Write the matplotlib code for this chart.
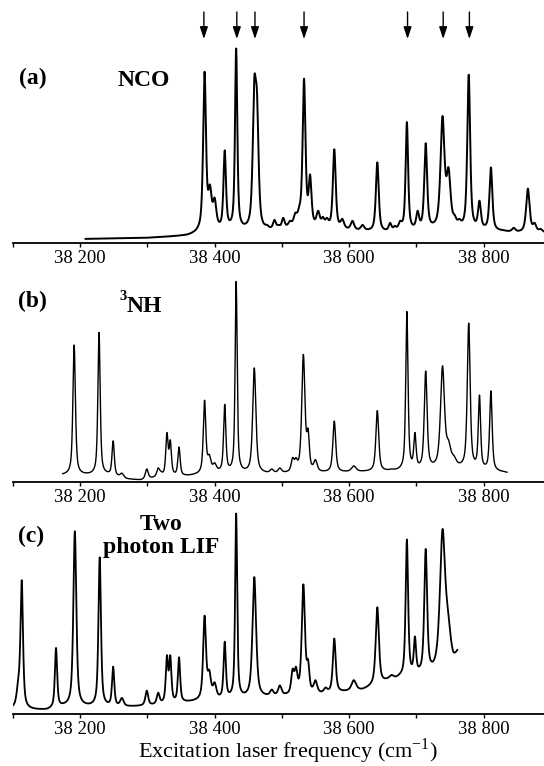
import numpy as np
import matplotlib
matplotlib.use("Agg")
import matplotlib.pyplot as plt

plt.rcParams['font.family'] = ['Liberation Serif', 'DejaVu Serif']

# ---------------- data ----------------
# x axis ticks
tick_major = [38200, 38400, 38600, 38800]
tick_minor = [38100, 38300, 38500, 38700]
tick_labels = ["38 200", "38 400", "38 600", "38 800"]
x_range = (38100, 38890)

# arrow positions in panel (a)
arrow_freqs = [38384, 38433, 38460, 38533, 38687, 38740, 38779]

# Panel (a) NCO : peak centres (cm-1), peak heights, half widths
centers_a = [38385, 38393, 38400, 38415, 38432, 38459, 38463, 38478, 38489, 38495,
             38502, 38512, 38520, 38526, 38533, 38542, 38554, 38561, 38567, 38578,
             38590, 38605, 38620, 38642, 38661, 38668, 38676, 38686, 38702, 38714,
             38739, 38748, 38757, 38764, 38778, 38794, 38811, 38829, 38845, 38866,
             38876, 38885]
heights_a = [170, 58, 45, 92, 193, 164, 150, 18, 23, 18,
             25, 22, 30, 37, 163, 68, 32, 26, 25, 93,
             24, 22, 18, 80, 20, 17, 22, 120, 32, 99,
             126, 75, 28, 24, 167, 42, 75, 13, 15, 54,
             20, 14]
widths_a = [2.5, 3, 3, 2.2, 2.0, 2.8, 2.8, 3, 2.5, 2.5,
            2.5, 3, 3, 3, 2.5, 2.5, 3, 2.5, 3, 2.5,
            3, 3, 3, 2.5, 2.5, 2.5, 3, 2.2, 2.5, 2.5,
            3.5, 3.5, 3, 3, 2.5, 2.5, 2.5, 3, 3, 3,
            3, 3]
base_a_f = [38208, 38300, 38360, 38376, 38420, 38470, 38520, 38600, 38660, 38720, 38800, 38850, 38890]
base_a_v = [4, 5, 7, 9, 12, 10, 14, 12, 10, 12, 12, 10, 10]

# Panel (b) 3NH
centers_b = [38191, 38228, 38249, 38262, 38299, 38316, 38320, 38329, 38334, 38347,
             38355, 38385, 38392, 38400, 38415, 38432, 38459, 38485, 38497, 38516,
             38521, 38532, 38539, 38550, 38565, 38578, 38607, 38642, 38663, 38675,
             38686, 38698, 38714, 38739, 38748, 38756, 38778, 38794, 38811, 38828]
heights_b = [131, 143, 39, 8, 12, 13, 10, 47, 40, 33,
             6, 78, 26, 18, 74, 192, 109, 12, 13, 23,
             23, 122, 51, 21, 10, 58, 15, 68, 12, 12,
             163, 47, 106, 111, 40, 25, 152, 83, 87, 10]
widths_b = [2.2, 2.0, 2.0, 3, 2.5, 2.5, 2.5, 2.0, 2.0, 2.0,
            3, 2.2, 3, 3, 2.0, 1.8, 2.8, 3, 3, 2.5,
            2.5, 2.8, 2.2, 3, 3, 2.5, 4, 2.5, 3, 3,
            2.0, 2.0, 2.5, 3.5, 4, 4, 2.5, 2.0, 2.2, 3]
base_b_f = [38174, 38200, 38240, 38270, 38290, 38320, 38360, 38400, 38480, 38560, 38620, 38700, 38760, 38800, 38835]
base_b_v = [6, 6, 6, 2, 1, 4, 5, 8, 7, 8, 9, 10, 12, 10, 8]

# Panel (c) two photon LIF
centers_c = [38108, 38113, 38164, 38192, 38229, 38249, 38262, 38299, 38316, 38329,
             38334, 38347, 38385, 38392, 38400, 38415, 38432, 38459, 38485, 38497,
             38516, 38521, 38532, 38539, 38550, 38565, 38578, 38607, 38642, 38663,
             38675, 38686, 38698, 38714, 38739, 38747]
heights_c = [35, 128, 63, 175, 150, 45, 15, 22, 20, 56,
             56, 54, 94, 42, 30, 69, 192, 131, 23, 27,
             43, 45, 124, 52, 32, 25, 72, 32, 102, 37,
             38, 167, 74, 158, 177, 100]
widths_c = [3, 2.2, 2.0, 2.6, 2.2, 2.0, 3, 2.5, 2.5, 2.0,
            2.0, 2.0, 2.5, 3, 3, 2.0, 1.8, 3.2, 3, 3,
            2.5, 2.5, 2.8, 2.2, 3, 3, 2.5, 4, 2.8, 4,
            4, 2.2, 2.0, 2.5, 4.5, 5]
base_c_f = [38100, 38150, 38175, 38260, 38300, 38370, 38450, 38500, 38560, 38620, 38655, 38700, 38725, 38755, 38761]
base_c_v = [4, 3, 6, 6, 7, 11, 14, 16, 18, 22, 30, 35, 37, 45, 55]

# ---------------- helpers ----------------
W, H = 544, 766
ETA = 0.65


def profile(x, c, w):
    d = (x - c) / w
    return ETA / (1 + d * d) + (1 - ETA) * np.exp(-np.log(2) * d * d)


def spectrum(centers, heights, widths, bf, bv, step=0.2):
    c = np.asarray(centers, float)
    h = np.asarray(heights, float)
    w = np.asarray(widths, float)
    x = np.arange(bf[0], bf[-1] + step / 2, step)
    M = profile(c[:, None], c[None, :], w[None, :])
    amps = np.linalg.solve(M, h - np.interp(c, bf, bv))
    amps = np.clip(amps, 0, None)
    y = np.interp(x, bf, bv) + (amps[None, :] * profile(x[:, None], c[None, :], w[None, :])).sum(axis=1)
    return x, y


def make_axes(fig, y_axis_px, y_top_px, peak_px, peak_val):
    left = 13
    ax = fig.add_axes([left / W, 1 - y_axis_px / H, (W - left) / W, (y_axis_px - y_top_px) / H])
    scale = peak_val / peak_px  # data units per pixel
    ax.set_ylim(0, (y_axis_px - y_top_px) * scale)
    ax.set_xlim(*x_range)
    for s in ('top', 'right', 'left'):
        ax.spines[s].set_visible(False)
    ax.spines['bottom'].set_linewidth(1.3)
    ax.set_yticks([])
    ax.set_xticks(tick_major)
    ax.set_xticklabels(tick_labels)
    ax.set_xticks(tick_minor, minor=True)
    ax.tick_params(axis='x', which='both', direction='out', length=3.0, width=1.0,
                   labelsize=13.5, pad=2.2)
    ax.patch.set_alpha(0)
    return ax, scale


fig = plt.figure(figsize=(W / 100, H / 100), dpi=100)

# panel (a)
xa, ya = spectrum(centers_a, heights_a, widths_a, base_a_f, base_a_v)
ax_a, sa = make_axes(fig, 243, 0, 243 - 48.5, max(heights_a))
ax_a.plot(xa, ya, color='black', lw=1.4)
for f in arrow_freqs:
    ax_a.annotate('', xy=(f, (243 - 39) * sa), xytext=(f, (243 - 12) * sa),
                  arrowprops=dict(arrowstyle='-|>,head_length=0.9,head_width=0.3',
                                  color='black', lw=1.0, shrinkA=0, shrinkB=0,
                                  mutation_scale=8),
                  annotation_clip=False)

# panel (b)
xb, yb = spectrum(centers_b, heights_b, widths_b, base_b_f, base_b_v)
ax_b, sb = make_axes(fig, 481.5, 265, 481.5 - 281.5, max(heights_b))
ax_b.plot(xb, yb, color='black', lw=1.0)

# panel (c)
xc, yc = spectrum(centers_c, heights_c, widths_c, base_c_f, base_c_v)
ax_c, sc = make_axes(fig, 713.5, 500, 713.5 - 513.5, max(heights_c))
ax_c.plot(xc, yc, color='black', lw=1.3)


def ftext(x, y, s, **kw):
    fig.text(x / W, 1 - y / H, s, **kw)


bold = dict(fontweight='bold', fontsize=17)
ftext(19, 84, '(a)', ha='left', va='baseline', **bold)
ftext(144, 85.5, 'NCO', ha='center', va='baseline', **bold)
ftext(18, 307, '(b)', ha='left', va='baseline', **bold)
ftext(127, 312, 'NH', ha='left', va='baseline', **bold)
ftext(119.5, 300, '3', ha='left', va='baseline', fontweight='bold', fontsize=10.5)
ftext(18, 542, '(c)', ha='left', va='baseline', **bold)
ftext(161, 530, 'Two', ha='center', va='baseline', **bold)
ftext(161, 553, 'photon LIF', ha='center', va='baseline', **bold)
ftext(288, 758, 'Excitation laser frequency (cm$^{\\mathregular{-1}}$)', ha='center',
      va='baseline', fontsize=16)

fig.savefig('out.png', dpi=100)
